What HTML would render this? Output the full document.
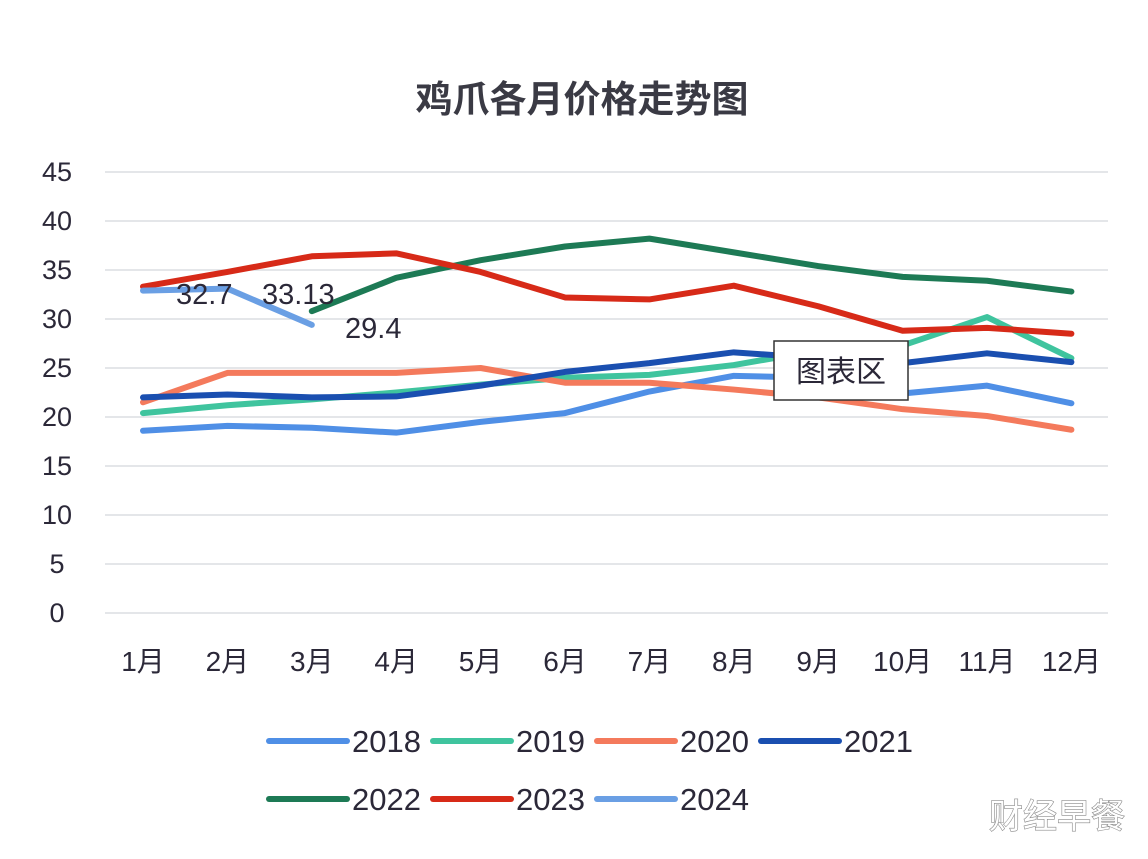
<!DOCTYPE html>
<html><head><meta charset="utf-8"><style>
body{margin:0;background:#fff;}
svg text{font-family:"Liberation Sans","Noto Sans CJK SC",sans-serif;fill:#2b2838;}
</style></head><body>
<svg width="1148" height="854" viewBox="0 0 1148 854" xmlns="http://www.w3.org/2000/svg">
<rect width="1148" height="854" fill="#fff"/>
<text x="582" y="112" text-anchor="middle" font-size="37" font-weight="bold" style="fill:#3a3a44">鸡爪各月价格走势图</text>
<g id="grid"></g><g id="series"></g><g id="legend"></g>
<text x="176" y="304" font-size="29">32.7</text>
<text x="262" y="304" font-size="29">33.13</text>
<text x="345" y="338" font-size="29">29.4</text>
<g>
<rect x="774" y="341" width="134" height="59" fill="#fff" stroke="#333" stroke-width="1.5"/>
<text x="841" y="382" text-anchor="middle" font-size="30">图表区</text>
</g>
<text x="1057" y="828" text-anchor="middle" font-size="34" style="fill:#fff;stroke:#888;stroke-width:1.2;paint-order:stroke">财经早餐</text>
</svg>
<script>
const months=["1月","2月","3月","4月","5月","6月","7月","8月","9月","10月","11月","12月"];
const yTicks=[0,5,10,15,20,25,30,35,40,45];
const seriesNames=["2018","2019","2020","2021","2022","2023","2024"];
const colors=["#4f8fe6","#3fc49e","#f47a5c","#1a4fb0","#1d7a55","#d72a18","#6a9fe4"];
const s2018=[18.6,19.1,18.9,18.4,19.5,20.4,22.6,24.2,24.0,22.4,23.2,21.4];
const s2019=[20.4,21.2,21.8,22.5,23.3,24.0,24.3,25.3,26.8,27.3,30.2,26.0];
const s2020=[21.5,24.5,24.5,24.5,25.0,23.5,23.5,22.8,22.0,20.8,20.1,18.7];
const s2021=[22.0,22.3,22.0,22.1,23.2,24.6,25.5,26.6,26.0,25.5,26.5,25.6];
const s2022=[null,null,30.8,34.2,36.0,37.4,38.2,36.8,35.4,34.3,33.9,32.8];
const s2023=[33.3,34.8,36.4,36.7,34.8,32.2,32.0,33.4,31.3,28.8,29.1,28.5];
const s2024=[32.9,33.1,29.4,null,null,null,null,null,null,null,null,null];
const allSeries=[s2018,s2019,s2020,s2021,s2022,s2023,s2024];
const NS="http://www.w3.org/2000/svg";
const xS=i=>143+i*84.4;
const yS=v=>613-v*9.8;
function mk(t,a,p){const e=document.createElementNS(NS,t);for(const k in a)e.setAttribute(k,a[k]);p.appendChild(e);return e;}
const grid=document.getElementById('grid');
yTicks.forEach(v=>{
 const l=mk('line',{x1:105,x2:1108,y1:yS(v),y2:yS(v),stroke:'#d4d6dc','stroke-width':1.2},grid);
 
 
 const t=mk('text',{x:57,y:yS(v)+9,'text-anchor':'middle','font-size':27},grid);t.textContent=v;
 
 
});
months.forEach((m,i)=>{
 const t=mk('text',{x:xS(i),y:671,'text-anchor':'middle','font-size':28},grid);t.textContent=m;
 
 
});
const sg=document.getElementById('series');
allSeries.forEach((s,k)=>{
 const pts=[];s.forEach((v,i)=>{if(v!==null)pts.push(xS(i)+','+yS(v));});
 const p=mk('polyline',{points:pts.join(' '),fill:'none',stroke:colors[k],'stroke-width':6,'stroke-linejoin':'round','stroke-linecap':'round'},sg);
 
 
});
const lg=document.getElementById('legend');
seriesNames.forEach((n,k)=>{
 const row=Math.floor(k/4),col=k%4;
 const x=267+col*164,y=741+row*58;
 const g=mk('g',{},lg);
 
 
 mk('line',{x1:x+2,x2:x+80,y1:y,y2:y,stroke:colors[k],'stroke-width':6,'stroke-linecap':'round'},g);
 const t=mk('text',{x:x+85,y:y+11,'font-size':31},g);t.textContent=n;
});
</script>
</body></html>
